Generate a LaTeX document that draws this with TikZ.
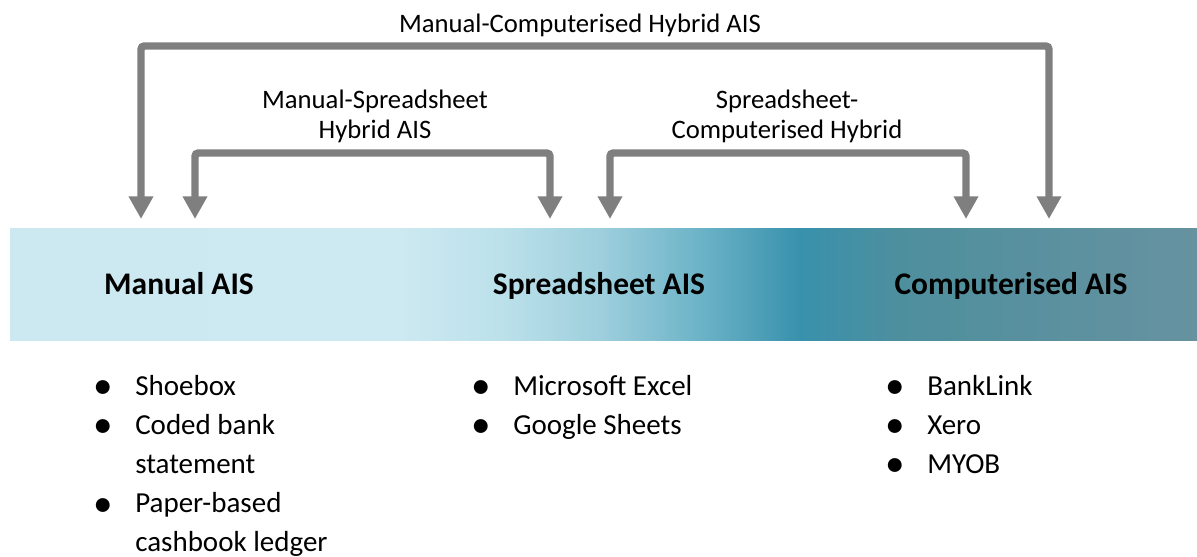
\documentclass[tikz,border=0pt]{standalone}
\usepackage{fontspec}
\setmainfont{Carlito}
\usetikzlibrary{arrows.meta}

\definecolor{linkgray}{HTML}{7F7F7F}
\definecolor{bandA}{HTML}{CCE8F0}
\definecolor{bandB}{HTML}{CDE9F1}
\definecolor{bandC}{HTML}{BCE1EB}
\definecolor{bandD}{HTML}{9ECFDD}
\definecolor{bandE}{HTML}{6CB3C7}
\definecolor{bandF}{HTML}{3891AC}
\definecolor{bandG}{HTML}{4E8F9E}
\definecolor{bandH}{HTML}{6792A0}

% horizontal colour run of the band; the path maps onto 25bp..75bp
\pgfdeclarehorizontalshading{bandshade}{100bp}{
  color(0bp)=(bandA); color(25bp)=(bandA); color(41.43bp)=(bandB);
  color(45.64bp)=(bandC); color(49.85bp)=(bandD); color(54.07bp)=(bandE);
  color(58.28bp)=(bandF); color(62.49bp)=(bandG); color(75bp)=(bandH);
  color(100bp)=(bandH)}

\newcommand\itemdot{\makebox[48pt]{\raisebox{-2.6pt}{\scalebox{1.35}{\textbullet}}}}

\begin{document}
\begin{tikzpicture}[x=0.75pt, y=-0.75pt,
  link/.style={draw=linkgray, line width=5.6pt, rounded corners=2.5pt,
    {Triangle[width=17.5pt,length=17pt]}-{Triangle[width=17.5pt,length=17pt]}},
  hybrid/.style={font=\fontsize{20}{22.5}\selectfont, align=center, inner sep=0pt, anchor=base},
  heading/.style={font=\fontsize{23.6}{28}\selectfont\bfseries, inner sep=0pt, anchor=base},
  items/.style={font=\fontsize{21.75}{29.4}\selectfont, inner sep=0pt, anchor=base west}]
\useasboundingbox (0,0) rectangle (1197,557);

% colour band, light on the left, teal towards the right
\shade[shading=bandshade] (10,228) rectangle (1197,340);

% stage headings
\node[heading] (manual) at (179,294) {Manual AIS};
\node[heading] (sheet) at (599,294) {Spreadsheet AIS};
\node[heading] (comp) at (1011,294) {Computerised AIS};

% arrow end points above the band
\coordinate (mcL) at (141,219);
\coordinate (mcR) at (1049,219);
\coordinate (msL) at (195,219);
\coordinate (msR) at (550,219);
\coordinate (scL) at (610,219);
\coordinate (scR) at (966,219);

% hybrid brackets
\draw[link] (mcL) -- ++(0,-173) -| (mcR);
\draw[link] (msL) -- ++(0,-66) -| (msR);
\draw[link] (scL) -- ++(0,-66) -| (scR);

% bracket labels
\node[hybrid] (mcLabel) at (580,32) {Manual-Computerised Hybrid AIS};
\node[hybrid, anchor=south] (msLabel) at (375,143) {Manual-Spreadsheet\\Hybrid AIS};
\node[hybrid, anchor=south] (scLabel) at (787,143) {Spreadsheet-\\Computerised Hybrid};

% examples of each stage
\node[items] (manualList) at (71,395) {\begin{tabular}[t]{@{}l@{}l@{}}
  \itemdot & Shoebox\\
  \itemdot & Coded bank\\
           & statement\\
  \itemdot & Paper-based\\
           & cashbook ledger
\end{tabular}};
\node[items] (sheetList) at (449,395) {\begin{tabular}[t]{@{}l@{}l@{}}
  \itemdot & Microsoft Excel\\
  \itemdot & Google Sheets
\end{tabular}};
\node[items] (compList) at (863,395) {\begin{tabular}[t]{@{}l@{}l@{}}
  \itemdot & BankLink\\
  \itemdot & Xero\\
  \itemdot & MYOB
\end{tabular}};
\end{tikzpicture}
\end{document}
